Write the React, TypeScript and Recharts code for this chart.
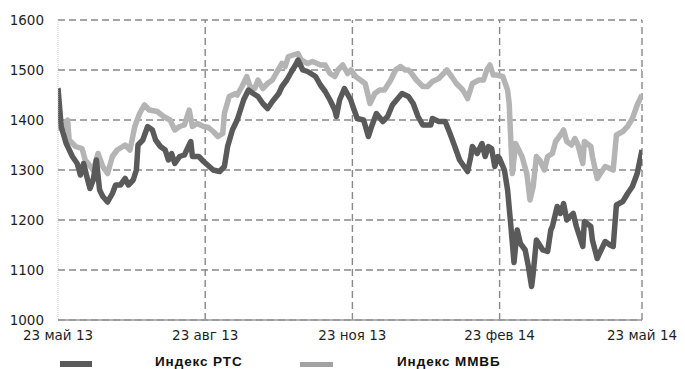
import React from "react";
import {
  LineChart,
  Line,
  XAxis,
  YAxis,
  CartesianGrid,
  ReferenceLine,
  Legend,
} from "recharts";

// days counted from 23 May 2013
const tickDays = [0, 92, 184, 276, 365];
const tickLabels = ["23 май 13", "23 авг 13", "23 ноя 13", "23 фев 14", "23 май 14"];
const yTicks = [1000, 1100, 1200, 1300, 1400, 1500, 1600];

const rtsDays = [
  0, 2, 5, 9, 12, 14, 16, 18, 20, 22, 24, 26, 28, 31, 34, 36, 39, 42, 44, 47,
  49, 50, 53, 56, 59, 61, 64, 67, 69, 71, 73, 76, 79, 83, 84, 88, 91, 97, 101,
  104, 106, 109, 112, 116, 119, 122, 125, 128, 131, 134, 138, 140, 143, 146,
  149, 150, 153, 156, 161, 164, 167, 170, 173, 174, 176, 179, 183, 184, 187,
  191, 194, 196, 199, 203, 206, 209, 215, 219, 222, 225, 228, 233, 234, 238,
  242, 245, 248, 251, 256, 258, 259, 262, 265, 267, 269, 271, 273, 275, 276,
  279, 281, 283, 285, 287, 289, 292, 294, 296, 297, 299, 303, 306, 308, 309,
  312, 314, 316, 318, 320, 322, 324, 328, 329, 333, 334, 337, 339, 342, 345,
  347, 349, 353, 356, 359, 362, 365,
];
const rtsValues = [
  1464, 1387, 1354, 1327, 1313, 1290, 1313, 1287, 1263, 1280, 1320, 1260, 1247,
  1236, 1253, 1270, 1270, 1283, 1270, 1280, 1300, 1350, 1360, 1387, 1380, 1360,
  1347, 1340, 1320, 1333, 1313, 1327, 1330, 1357, 1327, 1327, 1317, 1300, 1297,
  1307, 1347, 1380, 1400, 1440, 1460, 1453, 1447, 1433, 1423, 1437, 1453, 1467,
  1480, 1497, 1513, 1520, 1500, 1497, 1487, 1470, 1457, 1440, 1420, 1407, 1440,
  1463, 1440, 1430, 1403, 1400, 1367, 1387, 1413, 1397, 1407, 1430, 1453, 1447,
  1433, 1407, 1390, 1390, 1403, 1397, 1397, 1373, 1347, 1320, 1297, 1327, 1347,
  1333, 1353, 1327, 1347, 1343, 1307, 1327, 1323, 1300, 1260, 1190, 1115, 1180,
  1153, 1140, 1107, 1067, 1093, 1160, 1140, 1137, 1180, 1187, 1227, 1213, 1233,
  1200, 1207, 1213, 1187, 1147, 1197, 1187, 1160, 1123, 1137, 1157, 1150, 1147,
  1230, 1237, 1253, 1267, 1293, 1340,
];

const micexDays = [
  0, 3, 6, 7, 11, 15, 17, 22, 25, 28, 31, 34, 37, 42, 45, 48, 51, 54, 57, 62,
  66, 70, 73, 76, 79, 82, 84, 87, 91, 94, 97, 100, 103, 104, 107, 111, 112, 115,
  118, 120, 123, 125, 128, 131, 134, 137, 140, 142, 144, 147, 150, 152, 156,
  159, 164, 167, 170, 173, 175, 178, 181, 183, 186, 189, 192, 195, 198, 201,
  204, 208, 211, 214, 217, 219, 221, 224, 228, 231, 234, 238, 241, 243, 246,
  249, 253, 256, 259, 263, 266, 268, 270, 272, 274, 278, 281, 282, 283, 284,
  286, 288, 290, 293, 295, 297, 299, 301, 304, 306, 309, 311, 314, 316, 318,
  321, 323, 325, 328, 329, 333, 334, 337, 339, 342, 345, 347, 349, 353, 356,
  359, 362, 365,
];
const micexValues = [
  1387, 1380, 1400, 1360, 1347, 1343, 1320, 1300, 1333, 1307, 1293, 1327, 1340,
  1350, 1340, 1387, 1413, 1430, 1420, 1417, 1407, 1400, 1380, 1387, 1390, 1420,
  1387, 1393, 1387, 1385, 1377, 1367, 1373, 1413, 1447, 1453, 1450, 1467, 1487,
  1467, 1463, 1480, 1463, 1473, 1480, 1497, 1513, 1507, 1527, 1530, 1533, 1520,
  1513, 1517, 1510, 1510, 1493, 1487, 1500, 1510, 1493, 1500, 1487, 1480, 1473,
  1433, 1453, 1460, 1460, 1480, 1500, 1507, 1500, 1500, 1493, 1480, 1467, 1467,
  1477, 1483, 1493, 1500, 1487, 1473, 1460, 1443, 1473, 1480, 1480, 1500, 1510,
  1490, 1490, 1487, 1460, 1433, 1360, 1293, 1353, 1340, 1327, 1293, 1240, 1267,
  1327, 1320, 1300, 1327, 1333, 1357, 1370, 1380, 1357, 1350, 1363, 1350, 1313,
  1357, 1347, 1327, 1283, 1293, 1307, 1303, 1300, 1370, 1377, 1387, 1403, 1430,
  1450,
];

const rtsData = rtsDays.map((day, i) => ({ day, value: rtsValues[i] }));
const micexData = micexDays.map((day, i) => ({ day, value: micexValues[i] }));

const DARK = "#5a5a5a";
const LIGHT = "#b4b4b4";
const GRID = "#888888";
const TEXT = "#1f1f1f";

const tickFont = { fontFamily: "'DejaVu Sans', sans-serif", fontSize: 13.5, fill: TEXT };

const legendText: React.CSSProperties = {
  position: "absolute",
  top: 12,
  fontFamily: "'Liberation Sans', Arial, sans-serif",
  fontWeight: "bold",
  fontSize: 13.5,
  letterSpacing: 0.9,
  color: "#111",
  whiteSpace: "nowrap",
};

function renderLegend() {
  return (
    <div style={{ position: "relative", width: 669, height: 27 }}>
      <div style={{ position: "absolute", left: 52, top: 19, width: 32, height: 6, background: DARK }} />
      <span style={{ ...legendText, left: 147 }}>Индекс РТС</span>
      <div style={{ position: "absolute", left: 292, top: 20, width: 33, height: 5, background: "#a2a2a2" }} />
      <span style={{ ...legendText, left: 389 }}>Индекс ММВБ</span>
    </div>
  );
}

export default function App() {
  return (
    <LineChart width={669} height={361} margin={{ top: 12, right: 35, left: 0, bottom: 0 }}>
      <CartesianGrid vertical={false} stroke={GRID} strokeWidth={1.4} strokeDasharray="7 4" />
      {tickDays.slice(1).map((d) => (
        <ReferenceLine key={d} x={d} stroke={GRID} strokeWidth={1.4} strokeDasharray="7 4" />
      ))}
      <XAxis
        type="number"
        dataKey="day"
        domain={[0, 365]}
        ticks={tickDays}
        tickFormatter={(v: number) => tickLabels[tickDays.indexOf(v)]}
        tick={tickFont}
        tickLine={false}
        tickMargin={4}
        height={22}
        axisLine={{ stroke: "#9a9a9a", strokeWidth: 1.5 }}
        allowDataOverflow
      />
      <YAxis
        domain={[1000, 1600]}
        ticks={yTicks}
        tick={tickFont}
        tickLine={false}
        tickMargin={8}
        width={50}
        axisLine={{ stroke: "#c4c4c4", strokeDasharray: "1 1" }}
      />
      <Legend verticalAlign="bottom" height={27} content={renderLegend} wrapperStyle={{ left: 0, width: 669 }} />
      <Line
        data={micexData}
        dataKey="value"
        name="Индекс ММВБ"
        stroke={LIGHT}
        strokeWidth={5.5}
        strokeLinejoin="round"
        dot={false}
        isAnimationActive={false}
      />
      <Line
        data={rtsData}
        dataKey="value"
        name="Индекс РТС"
        stroke={DARK}
        strokeWidth={5.5}
        strokeLinejoin="round"
        dot={false}
        isAnimationActive={false}
      />
    </LineChart>
  );
}
